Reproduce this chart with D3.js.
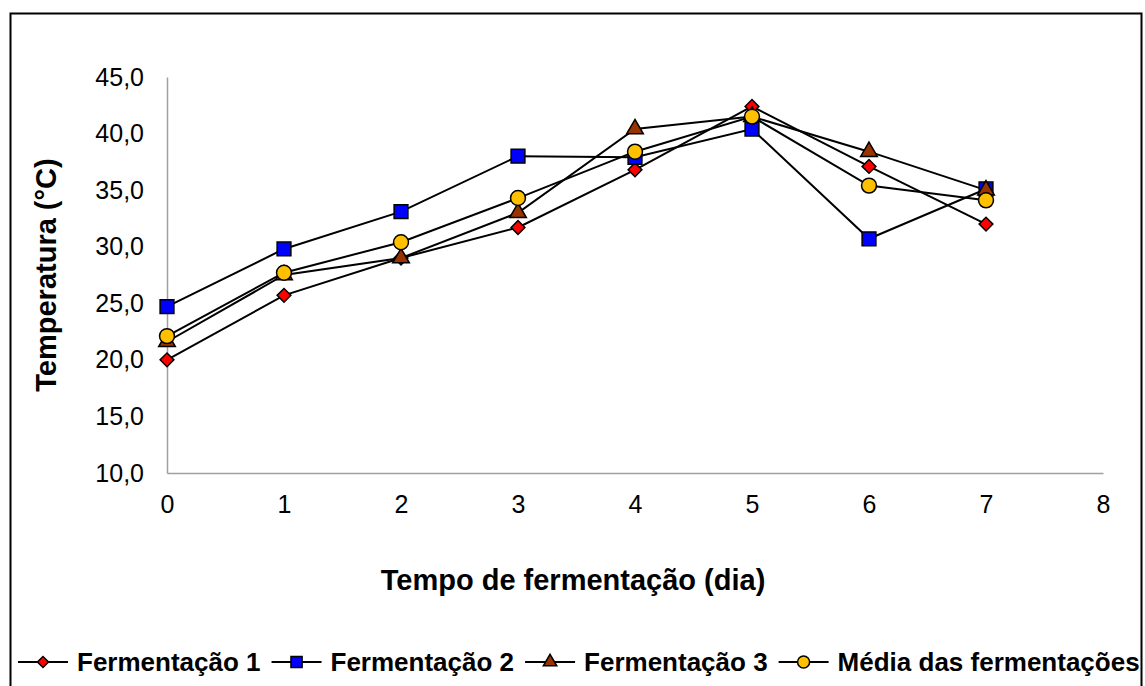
<!DOCTYPE html>
<html>
<head>
<meta charset="utf-8">
<script src="https://cdn.jsdelivr.net/npm/d3@7"></script>
<style>
  body { margin: 0; background: #fff; }
  text { font-family: "Liberation Sans", Arial, Helvetica, sans-serif; }
</style>
</head>
<body>
<div id="vis"></div>
<script>
// dias de fermentação
var days = [0, 1, 2, 3, 4, 5, 6, 7];
var xTicks = [0, 1, 2, 3, 4, 5, 6, 7, 8];
var yTicks = [10, 15, 20, 25, 30, 35, 40, 45];

var ferm1 = [20.0, 25.7, 29.0, 31.7, 36.8, 42.4, 37.1, 32.0];
var ferm2 = [24.7, 29.8, 33.1, 38.0, 37.9, 40.4, 30.7, 35.1];
var ferm3 = [21.6, 27.5, 29.0, 33.0, 40.4, 41.5, 38.4, 35.0];
var media = [22.1, 27.7, 30.4, 34.3, 38.4, 41.5, 35.4, 34.1];

var seriesNames = ["Fermentação 1", "Fermentação 2", "Fermentação 3", "Média das fermentações"];

// losango = quadrado girado 45 graus
const series = [
    { name: seriesNames[0], values: ferm1, color: "#ff0000", symbol: d3.symbolSquare, size: 95, rot: 45 },
    { name: seriesNames[1], values: ferm2, color: "#0000ff", symbol: d3.symbolSquare, size: 190, rot: 0 },
    { name: seriesNames[2], values: ferm3, color: "#993300", symbol: d3.symbolTriangle, size: 120, rot: 0 },
    { name: seriesNames[3], values: media, color: "#ffc000", symbol: d3.symbolCircle, size: 175, rot: 0 }
];

var W = 1145, H = 686;
var svg = d3.select("#vis")
            .append("svg")
            .attr("width", W)
            .attr("height", H);

// moldura do gráfico
svg.append("rect")
    .attr("x", 10.5).attr("y", 13.5)
    .attr("width", 1131).attr("height", 700)
    .attr("fill", "none")
    .attr("stroke", "#000")
    .attr("stroke-width", 2);

var x = d3.scaleLinear().domain([0, 8]).range([167, 1103]);
var y = d3.scaleLinear().domain([10, 45]).range([473, 77]);

var xAxis = svg.append("g")
    .attr("transform", "translate(0," + y(10) + ")")
    .call(d3.axisBottom(x).tickValues(xTicks).tickSize(0).tickSizeOuter(0).tickPadding(22)
          .tickFormat(d3.format("d")));

var yAxis = svg.append("g")
    .attr("transform", "translate(" + x(0) + ",0)")
    .call(d3.axisLeft(y).tickValues(yTicks).tickSize(0).tickSizeOuter(0).tickPadding(23)
          .tickFormat(d => d.toFixed(1).replace(".", ",")));

[xAxis, yAxis].forEach(g => {
    g.select(".domain").attr("stroke", "#a0a0a0").attr("stroke-width", 1.5);
    g.selectAll("text")
        .style("font-size", "25px")
        .style("font-family", "'Liberation Sans', Arial, sans-serif")
        .attr("fill", "#000");
});

// títulos dos eixos
svg.append("text")
    .attr("x", 573).attr("y", 590)
    .attr("text-anchor", "middle")
    .style("font-size", "29px")
    .style("font-weight", "bold")
    .text("Tempo de fermentação (dia)");

svg.append("text")
    .attr("transform", "translate(56," + ((y(10) + y(45)) / 2) + ") rotate(-90)")
    .attr("text-anchor", "middle")
    .style("font-size", "29px")
    .style("font-weight", "bold")
    .text("Temperatura (°C)");

var line = d3.line()
    .x((d, i) => x(days[i]))
    .y(d => y(d));

series.forEach(s => {
    svg.append("path")
        .attr("d", line(s.values))
        .attr("fill", "none")
        .attr("stroke", "#000")
        .attr("stroke-width", 2);
});

series.forEach(s => {
    svg.append("g").selectAll("path")
        .data(s.values)
        .enter()
        .append("path")
        .attr("d", d3.symbol().type(s.symbol).size(s.size))
        .attr("transform", (d, i) => "translate(" + x(days[i]) + "," + y(d) + ") rotate(" + s.rot + ")")
        .attr("fill", s.color)
        .attr("stroke", "#000")
        .attr("stroke-width", 1.5);
});

// legenda
var lx = 18, ly = 662;
series.forEach(s => {
    var g = svg.append("g");
    g.append("line")
        .attr("x1", lx).attr("x2", lx + 50)
        .attr("y1", ly).attr("y2", ly)
        .attr("stroke", "#000").attr("stroke-width", 2);
    g.append("path")
        .attr("d", d3.symbol().type(s.symbol).size(s.size * 0.65))
        .attr("transform", "translate(" + (lx + 25) + "," + ly + ") rotate(" + s.rot + ")")
        .attr("fill", s.color)
        .attr("stroke", "#000")
        .attr("stroke-width", 1.5);
    var t = g.append("text")
        .attr("x", lx + 59).attr("y", ly + 9)
        .style("font-size", "26px")
        .style("font-weight", "bold")
        .text(s.name);
    lx = lx + 59 + t.node().getComputedTextLength() + 11;
});
</script>
</body>
</html>
